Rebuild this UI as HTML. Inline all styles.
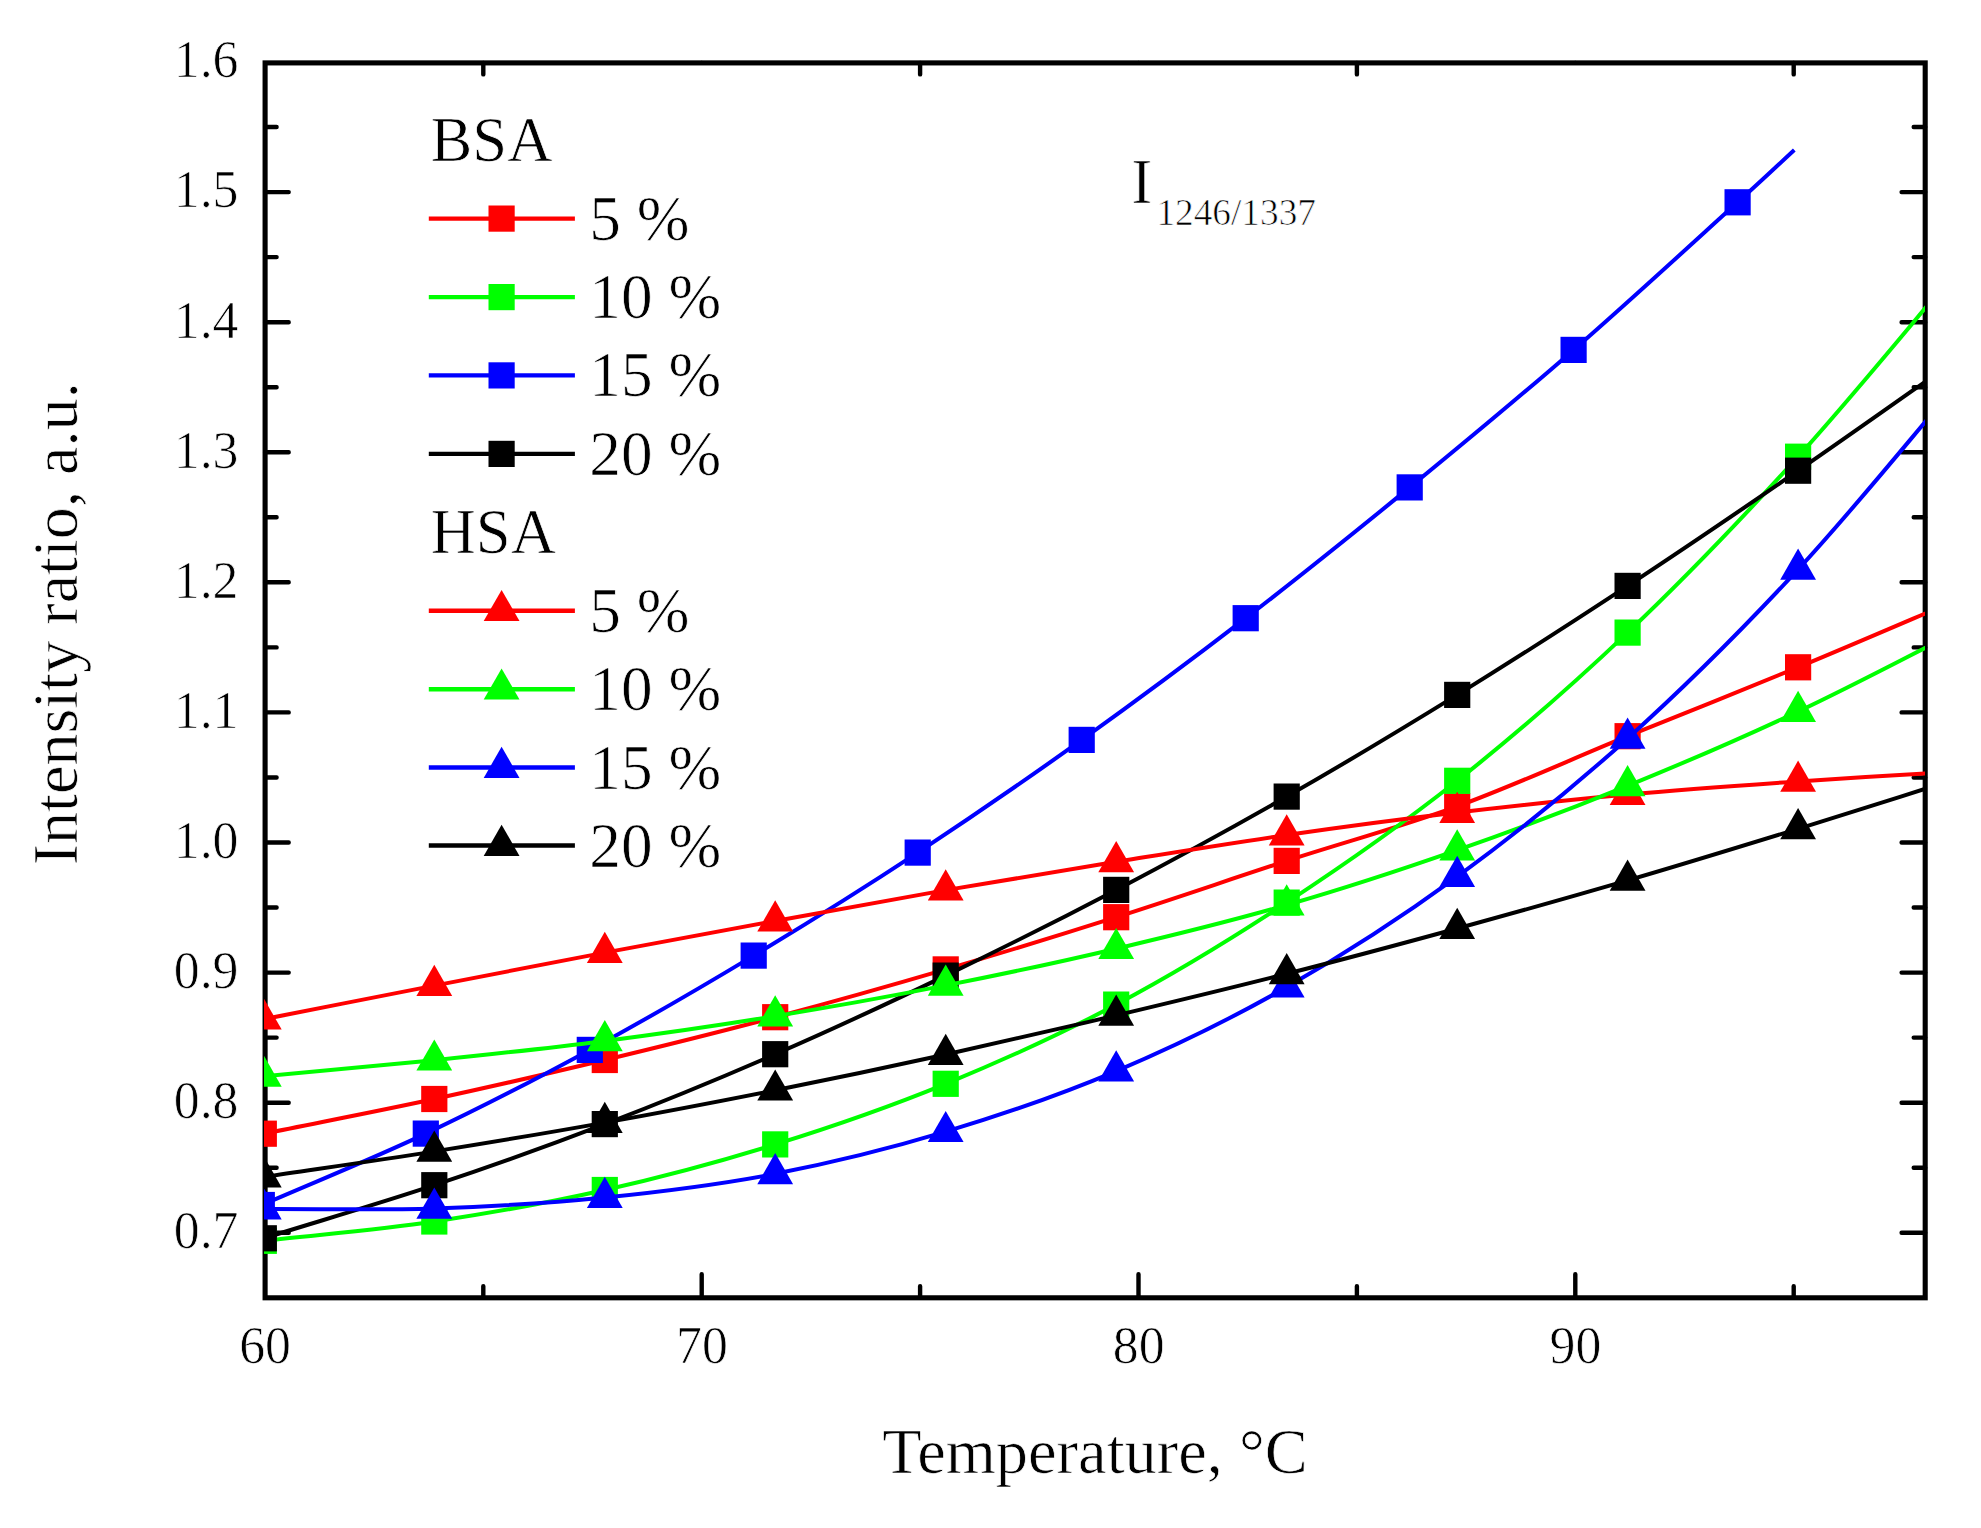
<!DOCTYPE html>
<html lang="en"><head><meta charset="utf-8"><title>Intensity ratio vs temperature</title>
<style>html,body{margin:0;padding:0;background:#fff}svg{display:block}</style></head>
<body>
<svg width="1981" height="1528" viewBox="0 0 1981 1528" font-family="'Liberation Serif', serif" fill="#000"><style>text{stroke:#fff;stroke-width:0.7px;paint-order:fill stroke}</style>
<rect width="1981" height="1528" fill="#fff"/>
<defs><clipPath id="cp"><rect x="264" y="60.4" width="1661.0" height="1240.0"/></clipPath></defs>
<rect x="265.1" y="62.9" width="1660.1" height="1234.9" fill="none" stroke="#000" stroke-width="5.1"/>
<path d="M265.1,1232.8h23.6 M1925.2,1232.8h-23.6 M265.1,1167.7h11.5 M1925.2,1167.7h-11.5 M265.1,1102.7h23.6 M1925.2,1102.7h-23.6 M265.1,1037.6h11.5 M1925.2,1037.6h-11.5 M265.1,972.6h23.6 M1925.2,972.6h-23.6 M265.1,907.5h11.5 M1925.2,907.5h-11.5 M265.1,842.5h23.6 M1925.2,842.5h-23.6 M265.1,777.5h11.5 M1925.2,777.5h-11.5 M265.1,712.4h23.6 M1925.2,712.4h-23.6 M265.1,647.4h11.5 M1925.2,647.4h-11.5 M265.1,582.3h23.6 M1925.2,582.3h-23.6 M265.1,517.3h11.5 M1925.2,517.3h-11.5 M265.1,452.2h23.6 M1925.2,452.2h-23.6 M265.1,387.2h11.5 M1925.2,387.2h-11.5 M265.1,322.2h23.6 M1925.2,322.2h-23.6 M265.1,257.1h11.5 M1925.2,257.1h-11.5 M265.1,192.1h23.6 M1925.2,192.1h-23.6 M265.1,127.0h11.5 M1925.2,127.0h-11.5 M483.3,1297.8v-11.5 M483.3,62.9v11.5 M701.7,1297.8v-23.6 M701.7,62.9v0 M920.1,1297.8v-11.5 M920.1,62.9v11.5 M1138.5,1297.8v-23.6 M1138.5,62.9v0 M1356.9,1297.8v-11.5 M1356.9,62.9v11.5 M1575.3,1297.8v-23.6 M1575.3,62.9v0 M1793.7,1297.8v-11.5 M1793.7,62.9v11.5" stroke="#000" stroke-width="4.4" fill="none" stroke-linecap="round"/>
<text x="238.5" y="1248.1" font-size="51.8" text-anchor="end">0.7</text>
<text x="238.5" y="1118.0" font-size="51.8" text-anchor="end">0.8</text>
<text x="238.5" y="987.9" font-size="51.8" text-anchor="end">0.9</text>
<text x="238.5" y="857.8" font-size="51.8" text-anchor="end">1.0</text>
<text x="238.5" y="727.7" font-size="51.8" text-anchor="end">1.1</text>
<text x="238.5" y="597.6" font-size="51.8" text-anchor="end">1.2</text>
<text x="238.5" y="467.5" font-size="51.8" text-anchor="end">1.3</text>
<text x="238.5" y="337.5" font-size="51.8" text-anchor="end">1.4</text>
<text x="238.5" y="207.4" font-size="51.8" text-anchor="end">1.5</text>
<text x="238.5" y="77.3" font-size="51.8" text-anchor="end">1.6</text>
<text x="265.1" y="1363" font-size="51.8" text-anchor="middle">60</text>
<text x="701.9" y="1363" font-size="51.8" text-anchor="middle">70</text>
<text x="1138.7" y="1363" font-size="51.8" text-anchor="middle">80</text>
<text x="1575.5" y="1363" font-size="51.8" text-anchor="middle">90</text>
<text x="1095" y="1473.2" font-size="64.4" text-anchor="middle">Temperature, °C</text>
<text transform="translate(77,623.8) rotate(-90)" font-size="64.2" text-anchor="middle">Intensity ratio, a.u.</text>
<text x="1131.3" y="202.6" font-size="63.3">I<tspan font-size="37.3" dy="22.6" dx="4">1246/1337</tspan></text>
<text x="430.5" y="160.8" font-size="62.7">BSA</text>
<text x="430.5" y="552.9" font-size="62.7">HSA</text>
<path d="M428.8,218.6H574.9" stroke="#ff0000" stroke-width="4.4" fill="none"/>
<rect x="488.5" y="205.5" width="26.2" height="26.2" fill="#ff0000"/>
<text x="589.3" y="239.6" font-size="63.3">5 %</text>
<path d="M428.8,297.1H574.9" stroke="#00ff00" stroke-width="4.4" fill="none"/>
<rect x="488.5" y="284.0" width="26.2" height="26.2" fill="#00ff00"/>
<text x="589.3" y="318.1" font-size="63.3">10 %</text>
<path d="M428.8,375.4H574.9" stroke="#0000ff" stroke-width="4.4" fill="none"/>
<rect x="488.5" y="362.3" width="26.2" height="26.2" fill="#0000ff"/>
<text x="589.3" y="396.4" font-size="63.3">15 %</text>
<path d="M428.8,453.9H574.9" stroke="#000000" stroke-width="4.4" fill="none"/>
<rect x="488.5" y="440.8" width="26.2" height="26.2" fill="#000000"/>
<text x="589.3" y="474.9" font-size="63.3">20 %</text>
<path d="M428.8,610.7H574.9" stroke="#ff0000" stroke-width="4.4" fill="none"/>
<polygon points="501.6,589.9 483.7,621.1 519.5,621.1" fill="#ff0000"/>
<text x="589.3" y="631.7" font-size="63.3">5 %</text>
<path d="M428.8,689.2H574.9" stroke="#00ff00" stroke-width="4.4" fill="none"/>
<polygon points="501.6,668.4 483.7,699.6 519.5,699.6" fill="#00ff00"/>
<text x="589.3" y="710.2" font-size="63.3">10 %</text>
<path d="M428.8,767.5H574.9" stroke="#0000ff" stroke-width="4.4" fill="none"/>
<polygon points="501.6,746.7 483.7,777.9 519.5,777.9" fill="#0000ff"/>
<text x="589.3" y="788.5" font-size="63.3">15 %</text>
<path d="M428.8,845.5H574.9" stroke="#000000" stroke-width="4.4" fill="none"/>
<polygon points="501.6,824.7 483.7,855.9 519.5,855.9" fill="#000000"/>
<text x="589.3" y="866.5" font-size="63.3">20 %</text>
<g clip-path="url(#cp)">
<path d="M263.8,1133.7 C320.6,1122.1 377.5,1111.3 434.3,1099.0 C491.1,1086.7 547.9,1073.6 604.8,1060.0 C661.6,1046.4 718.4,1032.3 775.2,1017.2 C832.1,1002.1 888.9,986.1 945.7,969.4 C1002.5,952.7 1059.4,935.3 1116.2,917.2 C1173.0,899.1 1229.9,879.4 1286.7,860.9 C1343.5,842.4 1400.3,827.2 1457.2,806.4 C1514.0,785.6 1570.8,759.4 1627.6,736.2 C1684.5,713.0 1741.3,690.8 1798.1,667.3 C1854.9,643.8 1911.8,619.1 1968.6,595.0" stroke="#ff0000" stroke-width="4.0" fill="none" stroke-linejoin="round"/>
<rect x="250.7" y="1120.6" width="26.2" height="26.2" fill="#ff0000"/>
<rect x="421.2" y="1085.9" width="26.2" height="26.2" fill="#ff0000"/>
<rect x="591.7" y="1046.9" width="26.2" height="26.2" fill="#ff0000"/>
<rect x="762.1" y="1004.1" width="26.2" height="26.2" fill="#ff0000"/>
<rect x="932.6" y="956.3" width="26.2" height="26.2" fill="#ff0000"/>
<rect x="1103.1" y="904.1" width="26.2" height="26.2" fill="#ff0000"/>
<rect x="1273.6" y="847.8" width="26.2" height="26.2" fill="#ff0000"/>
<rect x="1444.1" y="793.3" width="26.2" height="26.2" fill="#ff0000"/>
<rect x="1614.5" y="723.1" width="26.2" height="26.2" fill="#ff0000"/>
<rect x="1785.0" y="654.2" width="26.2" height="26.2" fill="#ff0000"/>
<path d="M263.8,1240.8 C320.6,1234.4 377.5,1230.0 434.3,1221.5 C491.1,1213.0 547.9,1202.8 604.8,1190.0 C661.6,1177.2 718.4,1162.1 775.2,1144.4 C832.1,1126.7 888.9,1107.1 945.7,1083.8 C1002.5,1060.5 1059.4,1034.8 1116.2,1004.6 C1173.0,974.4 1229.9,939.9 1286.7,902.6 C1343.5,865.3 1400.3,825.8 1457.2,780.8 C1514.0,735.8 1570.8,686.6 1627.6,632.6 C1684.5,578.6 1741.3,519.4 1798.1,456.7 C1854.9,394.0 1911.8,323.4 1968.6,256.7" stroke="#00ff00" stroke-width="4.0" fill="none" stroke-linejoin="round"/>
<rect x="250.7" y="1227.7" width="26.2" height="26.2" fill="#00ff00"/>
<rect x="421.2" y="1208.4" width="26.2" height="26.2" fill="#00ff00"/>
<rect x="591.7" y="1176.9" width="26.2" height="26.2" fill="#00ff00"/>
<rect x="762.1" y="1131.3" width="26.2" height="26.2" fill="#00ff00"/>
<rect x="932.6" y="1070.7" width="26.2" height="26.2" fill="#00ff00"/>
<rect x="1103.1" y="991.5" width="26.2" height="26.2" fill="#00ff00"/>
<rect x="1273.6" y="889.5" width="26.2" height="26.2" fill="#00ff00"/>
<rect x="1444.1" y="767.7" width="26.2" height="26.2" fill="#00ff00"/>
<rect x="1614.5" y="619.5" width="26.2" height="26.2" fill="#00ff00"/>
<rect x="1785.0" y="443.6" width="26.2" height="26.2" fill="#00ff00"/>
<path d="M261.8,1205.0 C316.5,1181.2 371.1,1159.4 425.8,1133.6 C480.4,1107.8 535.1,1079.6 589.8,1049.9 C644.4,1020.2 699.1,988.5 753.7,955.6 C808.4,922.7 863.1,888.6 917.7,852.6 C972.4,816.6 1027.0,779.0 1081.7,739.9 C1136.4,700.8 1191.0,660.3 1245.7,618.2 C1300.3,576.1 1355.0,532.1 1409.7,487.4 C1464.3,442.7 1519.0,397.4 1573.6,349.9 C1628.3,302.4 1700.8,235.6 1737.6,202.3 C1774.4,169.0 1775.4,167.4 1794.3,150.0" stroke="#0000ff" stroke-width="4.0" fill="none" stroke-linejoin="round"/>
<rect x="248.7" y="1191.9" width="26.2" height="26.2" fill="#0000ff"/>
<rect x="412.7" y="1120.5" width="26.2" height="26.2" fill="#0000ff"/>
<rect x="576.7" y="1036.8" width="26.2" height="26.2" fill="#0000ff"/>
<rect x="740.6" y="942.5" width="26.2" height="26.2" fill="#0000ff"/>
<rect x="904.6" y="839.5" width="26.2" height="26.2" fill="#0000ff"/>
<rect x="1068.6" y="726.8" width="26.2" height="26.2" fill="#0000ff"/>
<rect x="1232.6" y="605.1" width="26.2" height="26.2" fill="#0000ff"/>
<rect x="1396.6" y="474.3" width="26.2" height="26.2" fill="#0000ff"/>
<rect x="1560.5" y="336.8" width="26.2" height="26.2" fill="#0000ff"/>
<rect x="1724.5" y="189.2" width="26.2" height="26.2" fill="#0000ff"/>
<path d="M263.8,1238.3 C320.6,1220.6 377.5,1204.2 434.3,1185.2 C491.1,1166.2 547.9,1145.9 604.8,1124.1 C661.6,1102.3 718.4,1079.0 775.2,1054.2 C832.1,1029.5 888.9,1003.0 945.7,975.6 C1002.5,948.2 1059.4,919.7 1116.2,889.9 C1173.0,860.1 1229.9,829.1 1286.7,796.6 C1343.5,764.1 1400.3,730.0 1457.2,694.9 C1514.0,659.8 1570.8,623.3 1627.6,585.9 C1684.5,548.5 1741.3,509.8 1798.1,470.7 C1854.9,431.6 1911.8,391.0 1968.6,351.2" stroke="#000000" stroke-width="4.0" fill="none" stroke-linejoin="round"/>
<rect x="250.7" y="1225.2" width="26.2" height="26.2" fill="#000000"/>
<rect x="421.2" y="1172.1" width="26.2" height="26.2" fill="#000000"/>
<rect x="591.7" y="1111.0" width="26.2" height="26.2" fill="#000000"/>
<rect x="762.1" y="1041.1" width="26.2" height="26.2" fill="#000000"/>
<rect x="932.6" y="962.5" width="26.2" height="26.2" fill="#000000"/>
<rect x="1103.1" y="876.8" width="26.2" height="26.2" fill="#000000"/>
<rect x="1273.6" y="783.5" width="26.2" height="26.2" fill="#000000"/>
<rect x="1444.1" y="681.8" width="26.2" height="26.2" fill="#000000"/>
<rect x="1614.5" y="572.8" width="26.2" height="26.2" fill="#000000"/>
<rect x="1785.0" y="457.6" width="26.2" height="26.2" fill="#000000"/>
<path d="M263.8,1019.2 C320.6,1008.0 377.5,996.7 434.3,985.6 C491.1,974.5 547.9,963.4 604.8,952.6 C661.6,941.8 718.4,931.4 775.2,921.0 C832.1,910.6 888.9,900.0 945.7,890.1 C1002.5,880.2 1059.4,871.0 1116.2,861.8 C1173.0,852.6 1229.9,843.2 1286.7,835.0 C1343.5,826.8 1400.3,819.2 1457.2,812.5 C1514.0,805.8 1570.8,799.7 1627.6,794.5 C1684.5,789.3 1741.3,785.3 1798.1,781.4 C1854.9,777.5 1911.8,774.5 1968.6,771.0" stroke="#ff0000" stroke-width="4.0" fill="none" stroke-linejoin="round"/>
<polygon points="263.8,998.4 245.9,1029.6 281.7,1029.6" fill="#ff0000"/>
<polygon points="434.3,964.8 416.4,996.0 452.2,996.0" fill="#ff0000"/>
<polygon points="604.8,931.8 586.9,963.0 622.7,963.0" fill="#ff0000"/>
<polygon points="775.2,900.2 757.3,931.4 793.1,931.4" fill="#ff0000"/>
<polygon points="945.7,869.3 927.8,900.5 963.6,900.5" fill="#ff0000"/>
<polygon points="1116.2,841.0 1098.3,872.2 1134.1,872.2" fill="#ff0000"/>
<polygon points="1286.7,814.2 1268.8,845.4 1304.6,845.4" fill="#ff0000"/>
<polygon points="1457.2,791.7 1439.3,822.9 1475.1,822.9" fill="#ff0000"/>
<polygon points="1627.6,773.7 1609.7,804.9 1645.5,804.9" fill="#ff0000"/>
<polygon points="1798.1,760.6 1780.2,791.8 1816.0,791.8" fill="#ff0000"/>
<path d="M263.8,1076.3 C320.6,1070.9 377.5,1066.1 434.3,1060.2 C491.1,1054.3 547.9,1048.2 604.8,1040.9 C661.6,1033.6 718.4,1025.4 775.2,1016.1 C832.1,1006.9 888.9,996.6 945.7,985.4 C1002.5,974.2 1059.4,962.1 1116.2,948.7 C1173.0,935.3 1229.9,921.4 1286.7,905.0 C1343.5,888.6 1400.3,870.0 1457.2,850.1 C1514.0,830.2 1570.8,808.9 1627.6,785.8 C1684.5,762.7 1741.3,738.2 1798.1,711.5 C1854.9,684.8 1911.8,654.3 1968.6,625.7" stroke="#00ff00" stroke-width="4.0" fill="none" stroke-linejoin="round"/>
<polygon points="263.8,1055.5 245.9,1086.7 281.7,1086.7" fill="#00ff00"/>
<polygon points="434.3,1039.4 416.4,1070.6 452.2,1070.6" fill="#00ff00"/>
<polygon points="604.8,1020.1 586.9,1051.3 622.7,1051.3" fill="#00ff00"/>
<polygon points="775.2,995.3 757.3,1026.5 793.1,1026.5" fill="#00ff00"/>
<polygon points="945.7,964.6 927.8,995.8 963.6,995.8" fill="#00ff00"/>
<polygon points="1116.2,927.9 1098.3,959.1 1134.1,959.1" fill="#00ff00"/>
<polygon points="1286.7,884.2 1268.8,915.4 1304.6,915.4" fill="#00ff00"/>
<polygon points="1457.2,829.3 1439.3,860.5 1475.1,860.5" fill="#00ff00"/>
<polygon points="1627.6,765.0 1609.7,796.2 1645.5,796.2" fill="#00ff00"/>
<polygon points="1798.1,690.7 1780.2,721.9 1816.0,721.9" fill="#00ff00"/>
<path d="M263.8,1209.0 C320.6,1208.8 377.5,1210.3 434.3,1208.4 C491.1,1206.5 547.9,1203.3 604.8,1197.5 C661.6,1191.7 718.4,1184.8 775.2,1173.8 C832.1,1162.8 888.9,1148.8 945.7,1131.7 C1002.5,1114.6 1059.4,1095.2 1116.2,1071.1 C1173.0,1047.0 1229.9,1019.5 1286.7,987.1 C1343.5,954.7 1400.3,918.1 1457.2,876.6 C1514.0,835.1 1570.8,789.6 1627.6,738.4 C1684.5,687.2 1741.3,630.7 1798.1,569.4 C1854.9,508.1 1911.8,436.8 1968.6,370.5" stroke="#0000ff" stroke-width="4.0" fill="none" stroke-linejoin="round"/>
<polygon points="263.8,1188.2 245.9,1219.4 281.7,1219.4" fill="#0000ff"/>
<polygon points="434.3,1187.6 416.4,1218.8 452.2,1218.8" fill="#0000ff"/>
<polygon points="604.8,1176.7 586.9,1207.9 622.7,1207.9" fill="#0000ff"/>
<polygon points="775.2,1153.0 757.3,1184.2 793.1,1184.2" fill="#0000ff"/>
<polygon points="945.7,1110.9 927.8,1142.1 963.6,1142.1" fill="#0000ff"/>
<polygon points="1116.2,1050.3 1098.3,1081.5 1134.1,1081.5" fill="#0000ff"/>
<polygon points="1286.7,966.3 1268.8,997.5 1304.6,997.5" fill="#0000ff"/>
<polygon points="1457.2,855.8 1439.3,887.0 1475.1,887.0" fill="#0000ff"/>
<polygon points="1627.6,717.6 1609.7,748.8 1645.5,748.8" fill="#0000ff"/>
<polygon points="1798.1,548.6 1780.2,579.8 1816.0,579.8" fill="#0000ff"/>
<path d="M263.8,1177.0 C320.6,1168.5 377.5,1160.5 434.3,1151.4 C491.1,1142.3 547.9,1132.8 604.8,1122.6 C661.6,1112.4 718.4,1101.5 775.2,1090.2 C832.1,1078.9 888.9,1067.0 945.7,1054.5 C1002.5,1042.0 1059.4,1028.8 1116.2,1015.4 C1173.0,1001.9 1229.9,988.3 1286.7,973.8 C1343.5,959.3 1400.3,944.1 1457.2,928.5 C1514.0,912.9 1570.8,897.0 1627.6,880.4 C1684.5,863.8 1741.3,846.3 1798.1,828.8 C1854.9,811.2 1911.8,793.0 1968.6,775.1" stroke="#000000" stroke-width="4.0" fill="none" stroke-linejoin="round"/>
<polygon points="263.8,1156.2 245.9,1187.4 281.7,1187.4" fill="#000000"/>
<polygon points="434.3,1130.6 416.4,1161.8 452.2,1161.8" fill="#000000"/>
<polygon points="604.8,1101.8 586.9,1133.0 622.7,1133.0" fill="#000000"/>
<polygon points="775.2,1069.4 757.3,1100.6 793.1,1100.6" fill="#000000"/>
<polygon points="945.7,1033.7 927.8,1064.9 963.6,1064.9" fill="#000000"/>
<polygon points="1116.2,994.6 1098.3,1025.8 1134.1,1025.8" fill="#000000"/>
<polygon points="1286.7,953.0 1268.8,984.2 1304.6,984.2" fill="#000000"/>
<polygon points="1457.2,907.7 1439.3,938.9 1475.1,938.9" fill="#000000"/>
<polygon points="1627.6,859.6 1609.7,890.8 1645.5,890.8" fill="#000000"/>
<polygon points="1798.1,808.0 1780.2,839.2 1816.0,839.2" fill="#000000"/>
</g>
</svg>
</body></html>
